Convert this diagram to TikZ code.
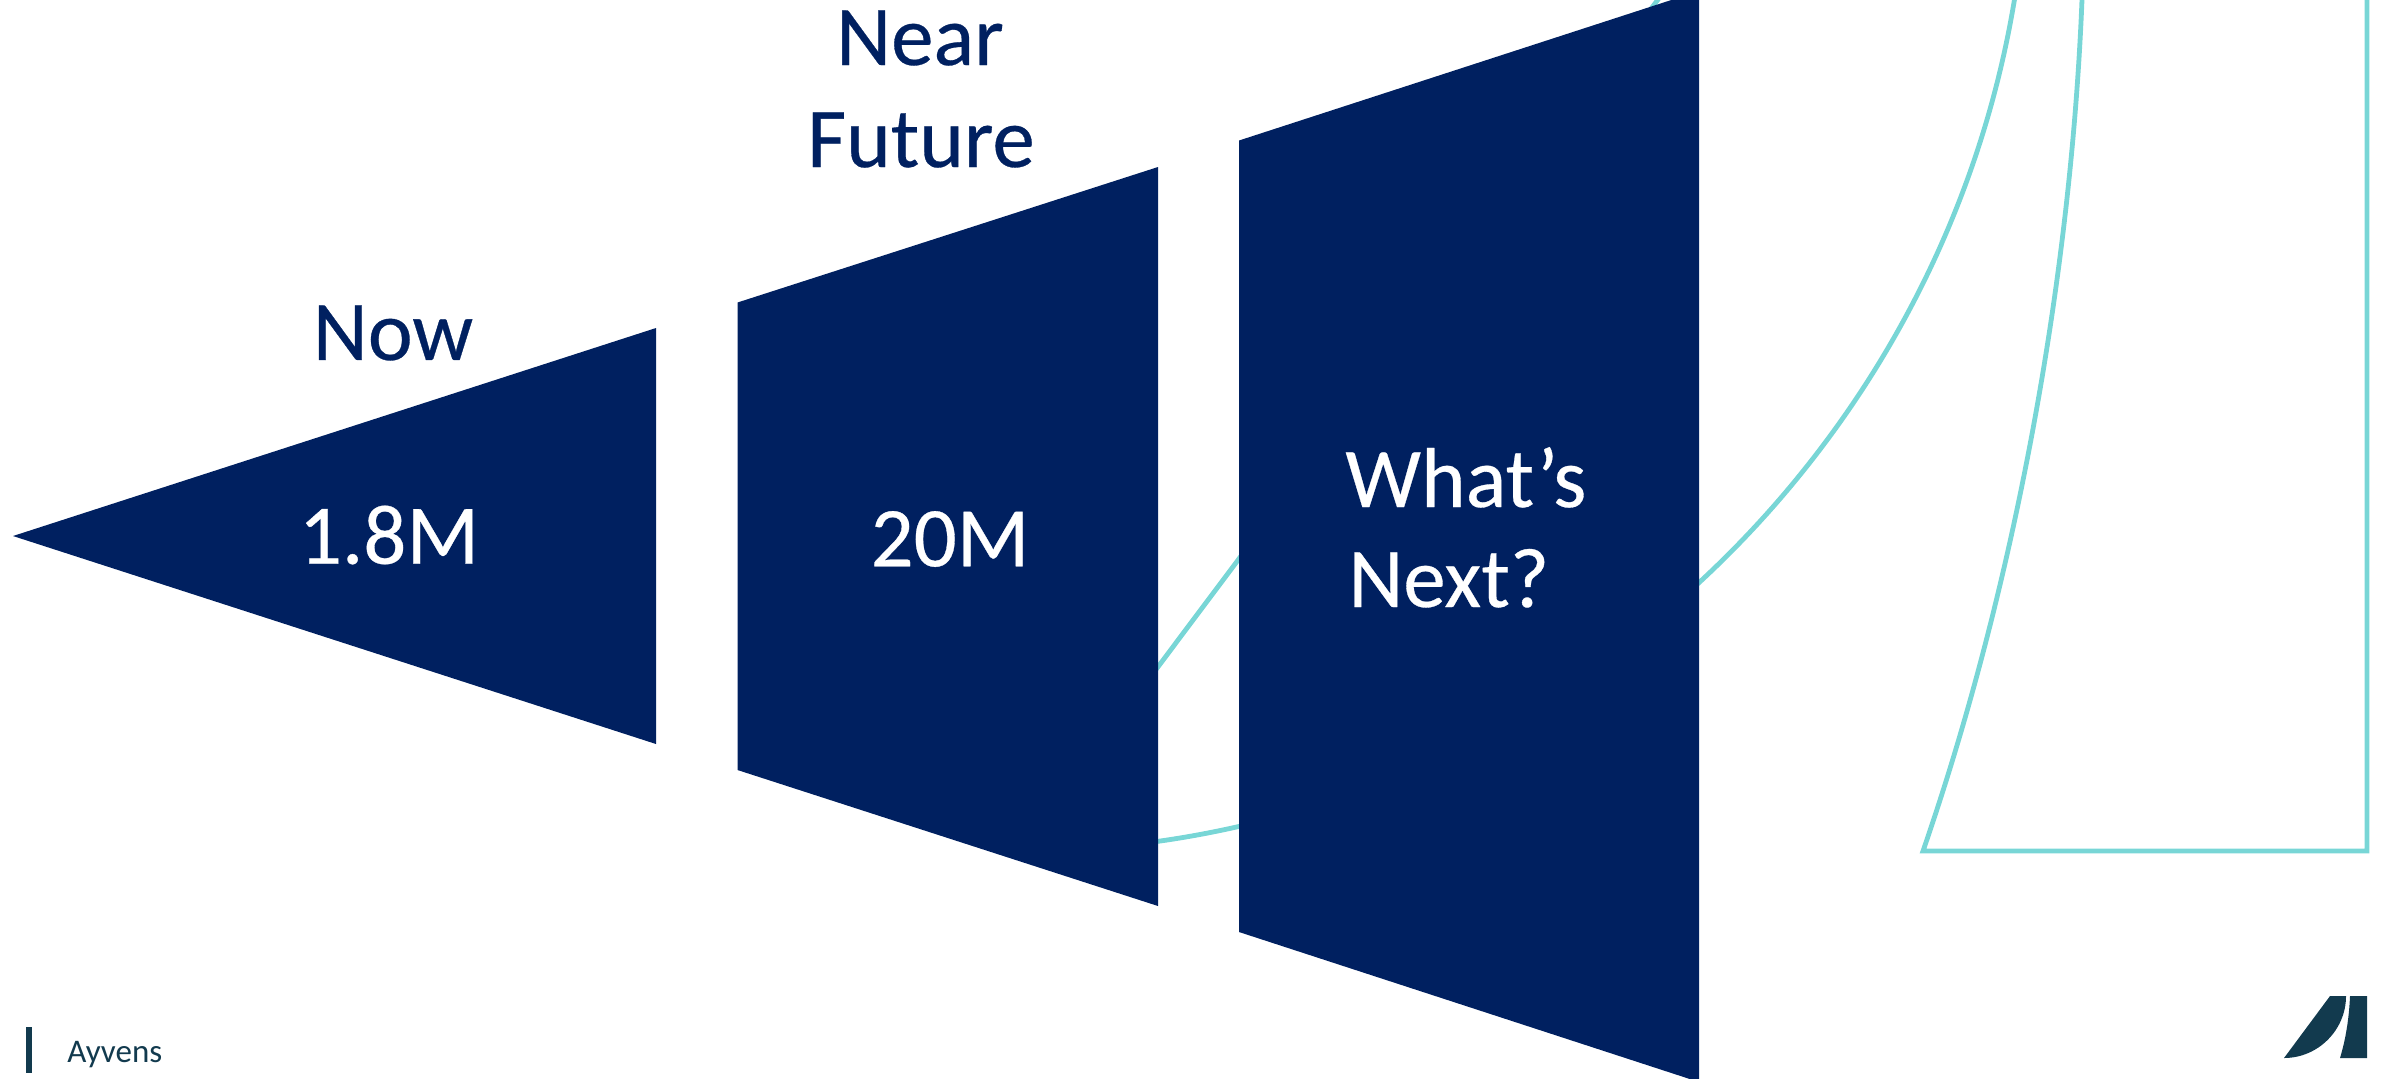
\documentclass[tikz,border=0pt]{standalone}
\usepackage{fontspec}
\setmainfont{Carlito}
\newfontfamily\heavyfont[FakeBold=0.35]{Carlito}
\definecolor{navy}{HTML}{002060}
\definecolor{tealline}{HTML}{78D6D6}
\definecolor{logoc}{HTML}{123A4E}
\tikzset{
  px/.style={x=0.5pt,y=-0.5pt},
  blockshape/.style={fill=navy,draw=none},
  outlineshape/.style={draw=tealline,line width=2.4pt,fill=none,line join=miter},
  logoshape/.style={fill=logoc,draw=none},
  big/.style={font=\heavyfont\fontsize{42.5}{52}\selectfont,inner sep=0pt},
  bigw/.style={big,text=white},
  bign/.style={big,text=navy,align=center},
}
\begin{document}
\begin{tikzpicture}[px]
\useasboundingbox (0,0) rectangle (2381,1078);
\clip (0,0) rectangle (2381,1078);
% teal outlines
\draw[outlineshape] (1020,851) -- (1770,-150);
\draw[outlineshape] (1020,851) .. controls (1571,851) and (2028,393) .. (2028,-166);
\draw[outlineshape] (2083,-30) .. controls (2075,250) and (2020,570) .. (1923,851) -- (2367,851) -- (2367,-30);
% blocks
\fill[blockshape] (13,536) -- (656,328) -- (656,744) -- cycle;
\fill[blockshape] (737.5,302.5) -- (1158,167) -- (1158,906) -- (737.5,770) -- cycle;
\fill[blockshape] (1239,140.5) -- (1699,-9) -- (1699,1082) -- (1239,932) -- cycle;
% labels
\node[bign] (now) at (393,333) {Now};
\node[bigw] (m18) at (389,535) {1.8M};
\node[bigw] (m20) at (950,539) {20M};
\node[bign,anchor=base] (near) at (920,65) {Near};
\node[bign,anchor=base] (future) at (921,167) {Future};
\node[bigw,anchor=base west] (whats) at (1345,507) {What’s};
\node[bigw,anchor=base west] (next) at (1348,607) {Next?};
% footer
\fill[logoc] (26,1027) rectangle (32,1073);
\node[font=\fontsize{16.5}{19}\selectfont,text=logoc,anchor=base west,inner sep=0pt] (ay) at (67,1062) {Ayvens};
\fill[logoshape] (2330,996) -- (2346,996) .. controls (2346,1030) and (2318,1058) .. (2284,1058) -- cycle;
\fill[logoshape] (2350,996) -- (2367,996) -- (2367,1058) -- (2340,1058) .. controls (2346,1038) and (2349,1018) .. (2350,996) -- cycle;
\end{tikzpicture}
\end{document}
